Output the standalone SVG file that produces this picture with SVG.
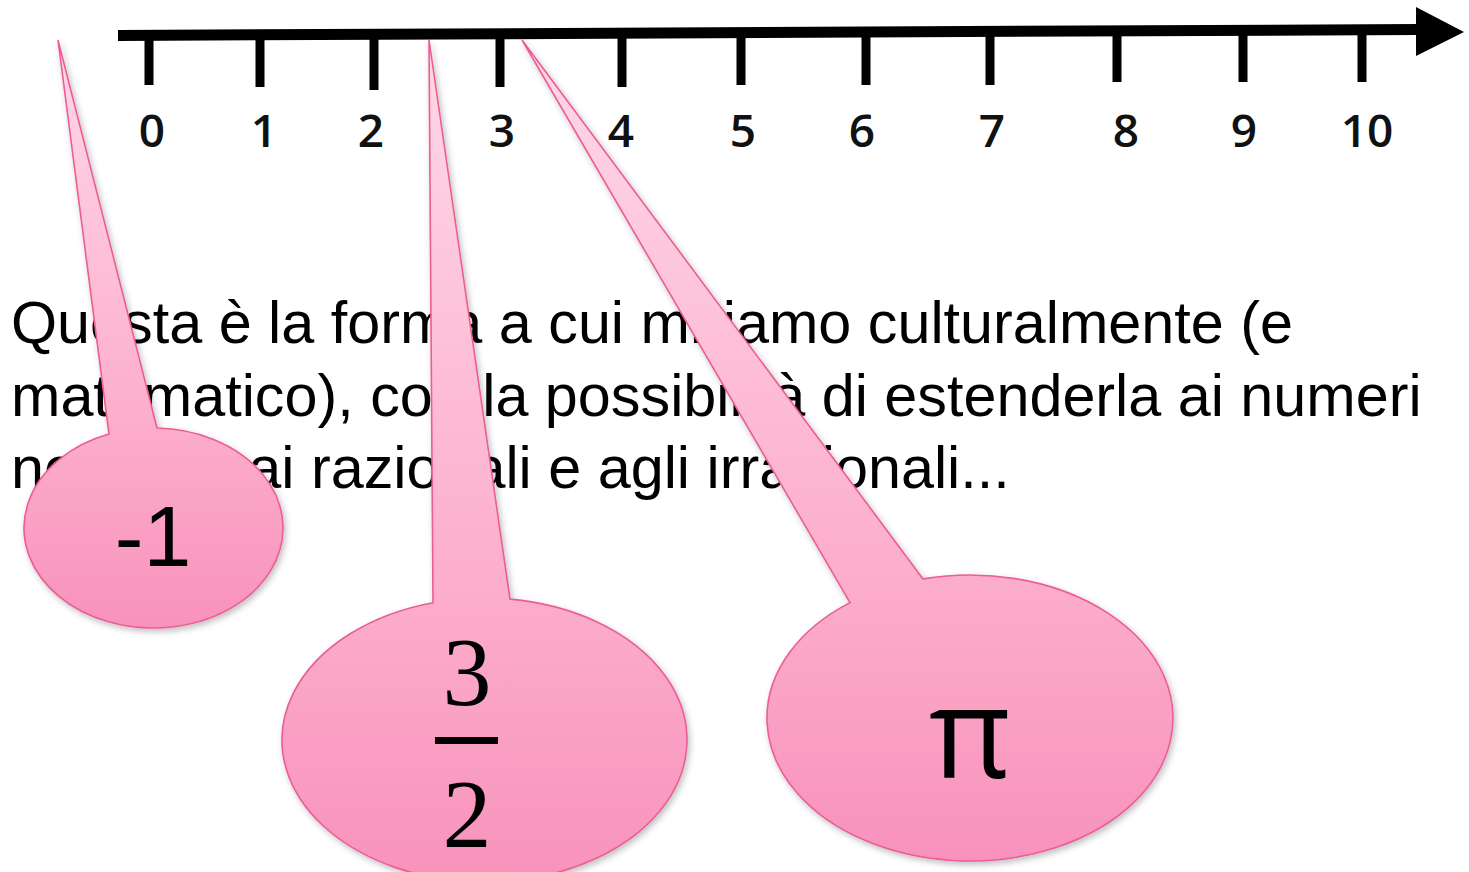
<svg xmlns="http://www.w3.org/2000/svg" width="1469" height="872" viewBox="0 0 1469 872">
<style>
.tick{fill:#000}
.lbl{font-family:"Open Sans","Liberation Sans",sans-serif;font-weight:600;font-size:46px;fill:#111;text-anchor:middle}
.para{font-family:"Liberation Sans",Arial,sans-serif;font-size:59.3px;fill:#000}
.bubble{fill:url(#pink);stroke:#ec5c96;stroke-width:1.6;filter:url(#sh)}
.num{font-family:"Liberation Sans",Arial,sans-serif;font-size:86px;fill:#000;text-anchor:middle}
.frac{font-family:"Liberation Serif","Times New Roman",serif;font-size:98px;fill:#000;text-anchor:middle}
.pi{font-family:"Open Sans","DejaVu Sans",sans-serif;font-size:126px;fill:#000;text-anchor:middle}
</style>
<defs>
<linearGradient id="pink" x1="0" y1="0" x2="0" y2="1">
<stop offset="0" stop-color="#ffd8e7"/>
<stop offset="0.66" stop-color="#fcadca"/>
<stop offset="1" stop-color="#f892bc"/>
</linearGradient>
<filter id="sh" x="-10%" y="-10%" width="130%" height="130%">
<feDropShadow dx="2" dy="3" stdDeviation="3" flood-color="#000" flood-opacity="0.25"/>
</filter>
</defs>
<g id="axis">
<polygon points="118,30 1418,24 1418,35 118,41" fill="#000"/>
<polygon points="1416,7 1464,32 1416,56" fill="#000"/>
<rect class="tick" x="144.5" y="36" width="9" height="49"/>
<rect class="tick" x="255.5" y="36" width="9" height="51"/>
<rect class="tick" x="369.5" y="35" width="9" height="55"/>
<rect class="tick" x="495.5" y="34" width="9" height="53"/>
<rect class="tick" x="617.5" y="34" width="9" height="53"/>
<rect class="tick" x="736.5" y="33" width="9" height="52"/>
<rect class="tick" x="861.5" y="32" width="9" height="53"/>
<rect class="tick" x="985.5" y="31" width="9" height="54"/>
<rect class="tick" x="1112.5" y="31" width="9" height="51"/>
<rect class="tick" x="1238.5" y="30" width="9" height="52"/>
<rect class="tick" x="1357.5" y="29" width="9" height="53"/>
</g>
<g id="labels">
<text class="lbl" x="152" y="147">0</text>
<text class="lbl" x="264" y="147">1</text>
<text class="lbl" x="371" y="147">2</text>
<text class="lbl" x="502" y="147">3</text>
<text class="lbl" x="621" y="147">4</text>
<text class="lbl" x="743" y="147">5</text>
<text class="lbl" x="862" y="147">6</text>
<text class="lbl" x="992" y="147">7</text>
<text class="lbl" x="1126" y="147">8</text>
<text class="lbl" x="1244" y="147">9</text>
<text class="lbl" x="1367" y="147">10</text>
</g>
<g id="paragraph">
<text class="para" x="11" y="343">Questa è la forma a cui miriamo culturalmente (e</text>
<text class="para" x="11" y="416">matematico), con la possibilità di estenderla ai numeri</text>
<text class="para" x="11" y="488">negativi, ai razionali e agli irrazionali...</text>
</g>
<g id="connectors"></g>
<g id="callout-minus1">
<path class="bubble" d="M157,428.04 L58,40 L109,434.09 A129.5,100 0 1 0 157,428.04 Z"/>
<text class="num" x="153" y="566">-1</text>
</g>
<g id="callout-3-2">
<path class="bubble" d="M510,599.13 L429,40 L433,602.67 A202.5,142 0 1 0 510,599.13 Z"/>
<text class="frac" x="467" y="705">3</text>
<rect x="435" y="737" width="63" height="7" fill="#000"/>
<text class="frac" x="467" y="847">2</text>
</g>
<g id="callout-pi">
<path class="bubble" d="M923,578.9 L522,40 L850,602.66 A203,143 0 1 0 923,578.9 Z"/>
<text class="pi" x="970" y="778">π</text>
</g>
</svg>
